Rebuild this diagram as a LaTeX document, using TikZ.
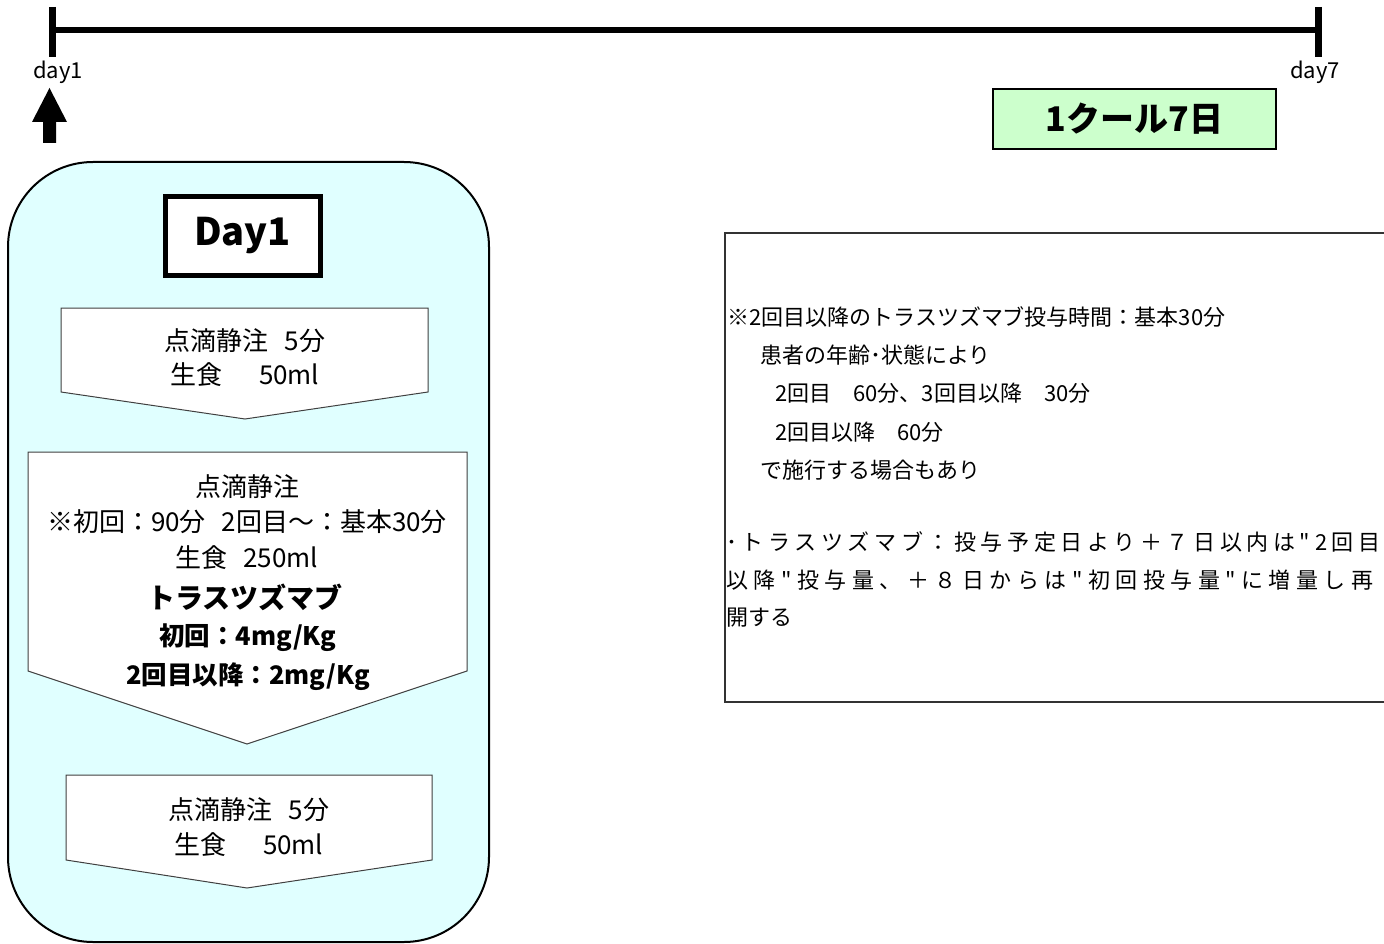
\documentclass[tikz,border=0pt]{standalone}
\usepackage{fontspec}
\setmainfont{Noto Sans CJK JP}[Ligatures=TeXOff]
\definecolor{cyanbg}{HTML}{E0FFFF}
\definecolor{greenbg}{HTML}{CCFFCC}
\begin{document}
\begin{tikzpicture}[x=1pt,y=-1pt,
  tline/.style={line width=6.5pt},
  daylbl/.style={font=\fontsize{22}{26}\selectfont, inner sep=0},
  stagebox/.style={draw=black!75, line width=1pt, fill=white},
  txt/.style={font=\fontsize{26}{30}\selectfont, inner sep=0},
  btxt/.style={font=\bfseries\fontsize{25.5}{30}\selectfont, inner sep=0},
  note/.style={font=\fontsize{22}{26}\selectfont, inner sep=0, anchor=west},
]
\useasboundingbox[fill=white] (0,0) rectangle (1384,944);

% timeline
\coordinate (t1) at (52,30);
\coordinate (t7) at (1318,30);
\draw[tline] (t1) -- (t7);
\draw[line width=7pt] (52,7) -- (52,57);
\draw[line width=7pt] (1318,7) -- (1318,57);
\node[daylbl] (d1) at (58,72) {day1};
\node[daylbl] (d7) at (1315,72) {day7};

% up arrow
\fill (43,143) -- (43,122) -- (32,122) -- (49.5,88) -- (67,122) -- (56,122) -- (56,143) -- cycle;

% cycle box
\node[draw=black, line width=1.2pt, fill=greenbg, minimum width=283pt, minimum height=60pt,
      font=\bfseries\fontsize{34}{38}\selectfont, inner sep=0] (cyc) at (1134.5,119) {1クール7日};

% big rounded box
\draw[line width=2pt, fill=cyanbg, rounded corners=85pt] (8,162) rectangle (489,942);

% Day1 box
\node[draw=black, line width=5pt, fill=white, minimum width=155pt, minimum height=78pt,
      font=\bfseries\fontsize{38}{44}\selectfont, inner sep=0] (day) at (242.5,236) {Day1};

% stage 1
\draw[stagebox] (61,308) -- (428,308) -- (428,392) -- (245,419) -- (61,392) -- cycle;
\node[txt] (s1a) at (245,341) {点滴静注\hspace{0.6em}5分};
\node[txt] (s1b) at (245,375) {生食\hspace{1.4em}50ml};

% stage 2
\draw[stagebox] (28,452) -- (467,452) -- (467,671) -- (247,744) -- (28,671) -- cycle;
\node[txt] (s2a) at (247,487) {点滴静注};
\node[txt] (s2b) at (247,522) {※初回：90分\hspace{0.6em}2回目～：基本30分};
\node[txt] (s2c) at (247,558) {生食\hspace{0.6em}250ml};
\node[btxt, font=\bfseries\fontsize{28}{32}\selectfont] (s2d) at (245,597) {トラスツズマブ};
\node[btxt] (s2e) at (248,638) {初回：4mg/Kg};
\node[btxt] (s2f) at (248,677) {2回目以降：2mg/Kg};

% stage 3
\draw[stagebox] (66,775) -- (432,775) -- (432,860) -- (247,888) -- (66,860) -- cycle;
\node[txt] (s3a) at (249,810) {点滴静注\hspace{0.6em}5分};
\node[txt] (s3b) at (249,845) {生食\hspace{1.4em}50ml};

% note box
\begin{scope}
\clip (0,0) rectangle (1384,944);
\draw[line width=1.2pt, draw=black!80] (725,233) rectangle (1400,702);
\node[note] (n1) at (727,317) {※2回目以降のトラスツズマブ投与時間：基本30分};
\node[note] (n2) at (760,355) {患者の年齢･状態により};
\node[note] (n3) at (775,393) {2回目\hspace{1em}60分、3回目以降\hspace{1em}30分};
\node[note] (n4) at (775,432) {2回目以降\hspace{1em}60分};
\node[note] (n5) at (760,470) {で施行する場合もあり};
\node[note] (n6) at (726,542) {\addfontfeatures{LetterSpace=21}･トラスツズマブ：投与予定日より＋７日以内は"2回目};
\node[note] (n7) at (726,580) {\addfontfeatures{LetterSpace=25}以降"投与量、＋８日からは"初回投与量"に増量し再};
\node[note] (n8) at (726,618) {開する};
\end{scope}
\end{tikzpicture}
\end{document}
